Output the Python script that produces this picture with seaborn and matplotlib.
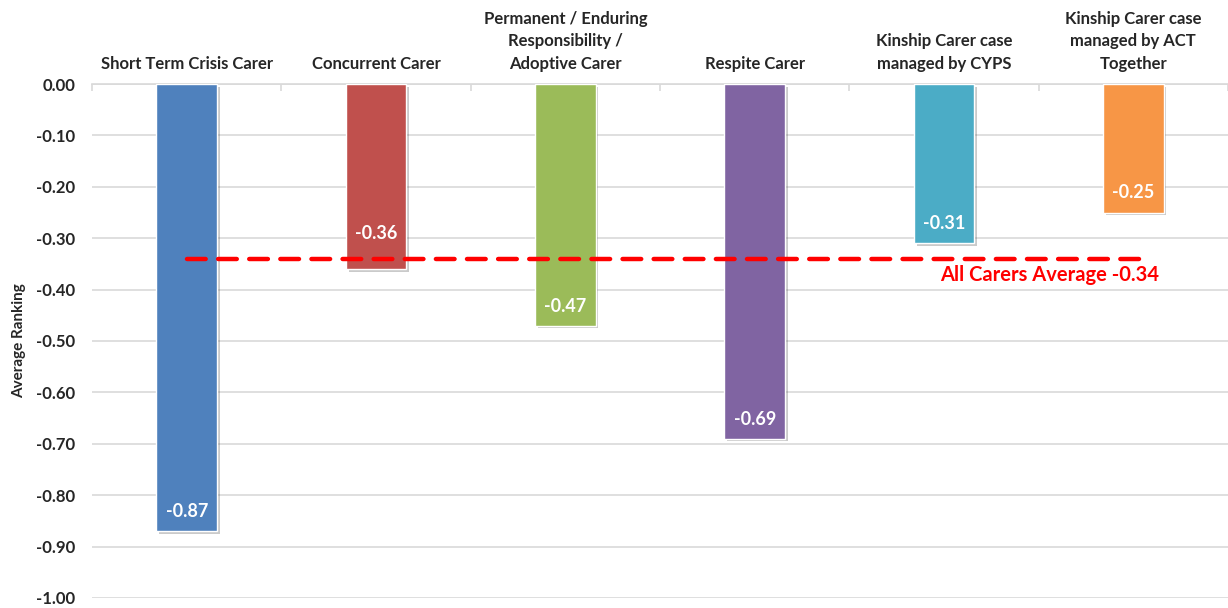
import matplotlib
matplotlib.use("Agg")
import matplotlib.pyplot as plt
import matplotlib.patheffects as pe
import seaborn as sns
import pandas as pd

categories = [
    "Short Term Crisis Carer",
    "Concurrent Carer",
    "Permanent / Enduring\nResponsibility /\nAdoptive Carer",
    "Respite Carer",
    "Kinship Carer case\nmanaged by CYPS",
    "Kinship Carer case\nmanaged by ACT\nTogether",
]
values = [-0.87, -0.36, -0.47, -0.69, -0.31, -0.25]
colors = ["#4F81BD", "#C0504D", "#9BBB59", "#8064A2", "#4BACC6", "#F79646"]
average = -0.34
average_label = "All Carers Average -0.34"
y_ticks = [0.0, -0.1, -0.2, -0.3, -0.4, -0.5, -0.6, -0.7, -0.8, -0.9, -1.0]

sns.set_theme(style="white")
plt.rcParams["font.family"] = ["Lato", "DejaVu Sans"]

df = pd.DataFrame({"category": categories, "value": values})

fig = plt.figure(figsize=(12.28, 6.08), dpi=100)
ax = fig.add_axes([0.075, 0.0165, 0.925, 0.8453])

sns.barplot(data=df, x="category", y="value", hue="category",
            palette=colors, width=0.32, legend=False, ax=ax, zorder=3,
            saturation=1)

for p in ax.patches:
    p.set_path_effects([pe.SimplePatchShadow(offset=(2, -2), alpha=0.3, shadow_rgbFace="#505050"), pe.Normal()])

# label offsets (data units above bar end); the Concurrent label was moved up to clear the average line
label_offset = {1: 0.070}
for i, v in enumerate(values):
    off = label_offset.get(i, 0.038)
    ax.text(i, v + off, f"{v:.2f}", ha="center", va="center",
            color="white", fontsize=13, fontweight="bold", zorder=5)

ax.plot([0, 5.04], [average, average], color="#FF0000", lw=3.2,
        dashes=(4.2, 2.8), zorder=4, solid_capstyle="round", dash_capstyle="round")
ax.text(4.56, -0.372, average_label, color="#FF0000", fontsize=14.5,
        fontweight="bold", ha="center", va="center", zorder=5)

ax.set_ylim(-1.0, 0.0)
ax.set_xlim(-0.5, 5.5)
ax.set_yticks(y_ticks)
ax.set_yticklabels([f"{t:.2f}" for t in y_ticks], fontsize=12, fontweight="bold")
ax.yaxis.grid(True, color="#D9D9D9", lw=1.2, zorder=0)
ax.set_axisbelow(True)
ax.tick_params(axis="y", length=0, pad=12)

ax.xaxis.tick_top()
ax.set_xticks(range(len(categories)))
ax.set_xticklabels(categories, fontsize=12, fontweight="bold", linespacing=1.5)
ax.tick_params(axis="x", which="major", length=0, pad=9)
ax.set_xticks([i - 0.5 for i in range(len(categories) + 1)], minor=True)
ax.tick_params(axis="x", which="minor", direction="in", length=5, color="#D9D9D9", width=1.2, top=True, bottom=False)
ax.set_xlabel("")
ax.set_ylabel("Average Ranking", fontsize=11, fontweight="bold", labelpad=7)

for s in ["left", "right", "bottom"]:
    ax.spines[s].set_visible(False)
ax.spines["top"].set_color("#D9D9D9")
ax.spines["top"].set_linewidth(1.2)

fig.savefig("out.png", dpi=100)
